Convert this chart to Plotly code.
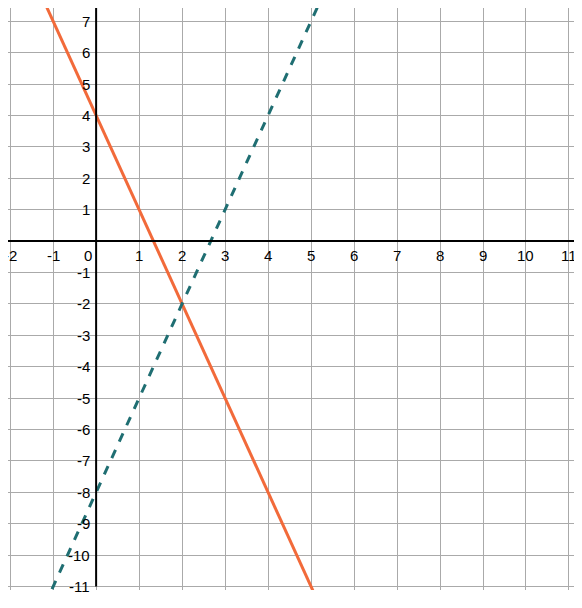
import plotly.graph_objects as go

line1_x = [-1.2, 5.2]
line1_y = [7.6, -11.6]   # y = -3x + 4
line2_x = [-1.2, 5.2]
line2_y = [-11.6, 7.6]   # y = 3x - 8
x_ticks = list(range(-2, 12))
y_ticks = [v for v in range(-11, 8) if v != 0]

fig = go.Figure()
fig.add_trace(go.Scatter(x=line1_x, y=line1_y, mode="lines",
                         line=dict(color="#f26a3a", width=3), showlegend=False))
fig.add_trace(go.Scatter(x=line2_x, y=line2_y, mode="lines",
                         line=dict(color="#1f6e72", width=3, dash="dash"), showlegend=False))
fig.add_shape(type="line", x0=0, x1=0, y0=-11, y1=7.5, line=dict(color="black", width=2))
fig.add_shape(type="line", x0=-2.1, x1=11.2, y0=0, y1=0, line=dict(color="black", width=2))

font = dict(family="Liberation Sans, Arial", size=15, color="black")
for v in x_ticks:
    fig.add_annotation(x=v, y=0, text=str(v), showarrow=False, yshift=-14,
                       xshift=-8 if v == 0 else 0, font=font)
for v in y_ticks:
    fig.add_annotation(x=0, y=v, text=str(v), showarrow=False, xanchor="right",
                       xshift=-4, font=font)

fig.update_xaxes(range=[-2.05, 11.14], dtick=1, tick0=0, showgrid=True, gridcolor="#aaaaaa",
                 gridwidth=1, showticklabels=False, zeroline=False, showline=False)
fig.update_yaxes(range=[-11.11, 7.42], dtick=1, tick0=0, showgrid=True, gridcolor="#aaaaaa",
                 gridwidth=1, showticklabels=False, zeroline=False, showline=False)
fig.update_layout(width=574, height=600, margin=dict(l=0, r=7, t=0, b=18),
                  plot_bgcolor="white", paper_bgcolor="white")
fig.write_html("out.html")
